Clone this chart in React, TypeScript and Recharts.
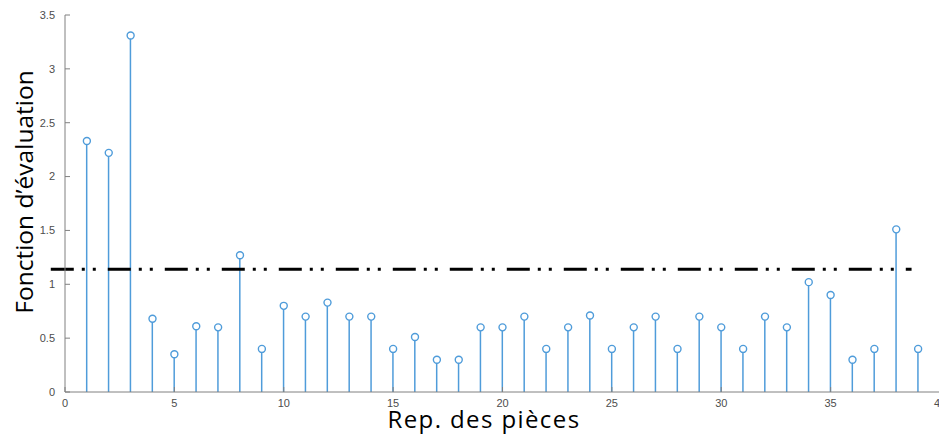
import React from "react";
import {
  Bar,
  ComposedChart,
  ReferenceLine,
  Scatter,
  XAxis,
  YAxis,
} from "recharts";

const pieces = [
  1, 2, 3, 4, 5, 6, 7, 8, 9, 10, 11, 12, 13, 14, 15, 16, 17, 18, 19, 20, 21,
  22, 23, 24, 25, 26, 27, 28, 29, 30, 31, 32, 33, 34, 35, 36, 37, 38, 39,
];
const scores = [
  2.33, 2.22, 3.31, 0.68, 0.35, 0.61, 0.6, 1.27, 0.4, 0.8, 0.7, 0.83, 0.7, 0.7,
  0.4, 0.51, 0.3, 0.3, 0.6, 0.6, 0.7, 0.4, 0.6, 0.71, 0.4, 0.6, 0.7, 0.4, 0.7,
  0.6, 0.4, 0.7, 0.6, 1.02, 0.9, 0.3, 0.4, 1.51, 0.4,
];
const xTicks = [0, 5, 10, 15, 20, 25, 30, 35, 40];
const yTicks = [0, 0.5, 1, 1.5, 2, 2.5, 3, 3.5];
const threshold = 1.14;
const thresholdFrom = -0.65;
const thresholdTo = 38.7;

const data = pieces.map((p, i) => ({ piece: p, score: scores[i] }));

const AXIS = "#808080";
const TICK_TEXT = "#4d4d4d";
const STEM = "#4f9cda";
const FONT = "'Liberation Sans', Arial, sans-serif";
const LABEL_FONT = "'Open Sans', sans-serif";

const BottomTick = (props: any) => {
  const { x, y, payload } = props;
  return (
    <g>
      <line x1={x} y1={392} x2={x} y2={387} stroke={AXIS} />
      <text
        x={x}
        y={y}
        dy="0.71em"
        textAnchor="middle"
        fontSize={11}
        fill={TICK_TEXT}
        fontFamily={FONT}
      >
        {payload.value}
      </text>
    </g>
  );
};

const TopTick = (props: any) => {
  const { x, y } = props;
  return <line x1={x} y1={y} x2={x} y2={y + 5} stroke={AXIS} />;
};

const LeftTick = (props: any) => {
  const { x, y, payload } = props;
  return (
    <g>
      <line x1={65} y1={y} x2={70} y2={y} stroke={AXIS} />
      <text
        x={x}
        y={y}
        dy="0.35em"
        textAnchor="end"
        fontSize={11}
        fill={TICK_TEXT}
        fontFamily={FONT}
      >
        {payload.value}
      </text>
    </g>
  );
};

const RightTick = (props: any) => {
  const { x, y } = props;
  return <line x1={x} y1={y} x2={x - 6} y2={y} stroke={AXIS} />;
};

const Marker = (props: any) => {
  const { cx, cy } = props;
  return (
    <circle cx={cx} cy={cy} r={3.5} fill="#fff" stroke={STEM} strokeWidth={1.4} />
  );
};

export default function App() {
  return (
    <div
      style={{
        position: "absolute",
        left: 0,
        top: 0,
        width: 939,
        height: 436,
        overflow: "hidden",
        background: "#fff",
      }}
    >
      <ComposedChart
        width={945}
        height={436}
        data={data}
        margin={{ top: 15, right: 5, bottom: 0, left: 0 }}
      >
        <XAxis
          xAxisId="b"
          dataKey="piece"
          type="number"
          domain={[0, 40]}
          ticks={xTicks}
          interval={0}
          allowDataOverflow
          height={44}
          stroke={AXIS}
          tickLine={false}
          tickSize={0}
          tickMargin={7}
          tick={<BottomTick />}
          label={{
            content: () => (
              <text
                x={484}
                y={428}
                textAnchor="middle"
                fontSize={24}
                letterSpacing={1.4}
                fill="#000"
                fontFamily={LABEL_FONT}
              >
                Rep. des pièces
              </text>
            ),
          }}
        />
        <XAxis
          xAxisId="t"
          orientation="top"
          type="number"
          domain={[0, 40]}
          ticks={xTicks}
          interval={0}
          allowDataOverflow
          height={0}
          stroke={AXIS}
          tickLine={false}
          tickSize={0}
          tickMargin={0}
          tick={<TopTick />}
        />
        <YAxis
          yAxisId="l"
          type="number"
          domain={[0, 3.5]}
          ticks={yTicks}
          interval={0}
          allowDataOverflow
          width={65}
          stroke={AXIS}
          tickLine={false}
          tickSize={0}
          tickMargin={10}
          tick={<LeftTick />}
          label={{
            content: () => (
              <text
                x={0}
                y={0}
                transform="translate(33, 192) rotate(-90)"
                textAnchor="middle"
                fontSize={24.5}
                fill="#000"
                fontFamily={LABEL_FONT}
              >
                Fonction d’évaluation
              </text>
            ),
          }}
        />
        <YAxis
          yAxisId="r"
          orientation="right"
          type="number"
          domain={[0, 3.5]}
          ticks={yTicks}
          interval={0}
          width={0}
          stroke={AXIS}
          tickLine={false}
          tickSize={0}
          tickMargin={0}
          tick={<RightTick />}
        />
        <ReferenceLine
          xAxisId="b"
          yAxisId="l"
          segment={[
            { x: thresholdFrom, y: threshold },
            { x: thresholdTo, y: threshold },
          ]}
          ifOverflow="visible"
          stroke="#000"
          strokeWidth={3}
          strokeDasharray="23 8 3 8 3 12"
        />
        <Bar
          xAxisId="b"
          yAxisId="l"
          dataKey="score"
          barSize={1.5}
          fill={STEM}
          isAnimationActive={false}
        />
        <Scatter
          xAxisId="b"
          yAxisId="l"
          dataKey="score"
          shape={<Marker />}
          isAnimationActive={false}
        />
      </ComposedChart>
    </div>
  );
}
